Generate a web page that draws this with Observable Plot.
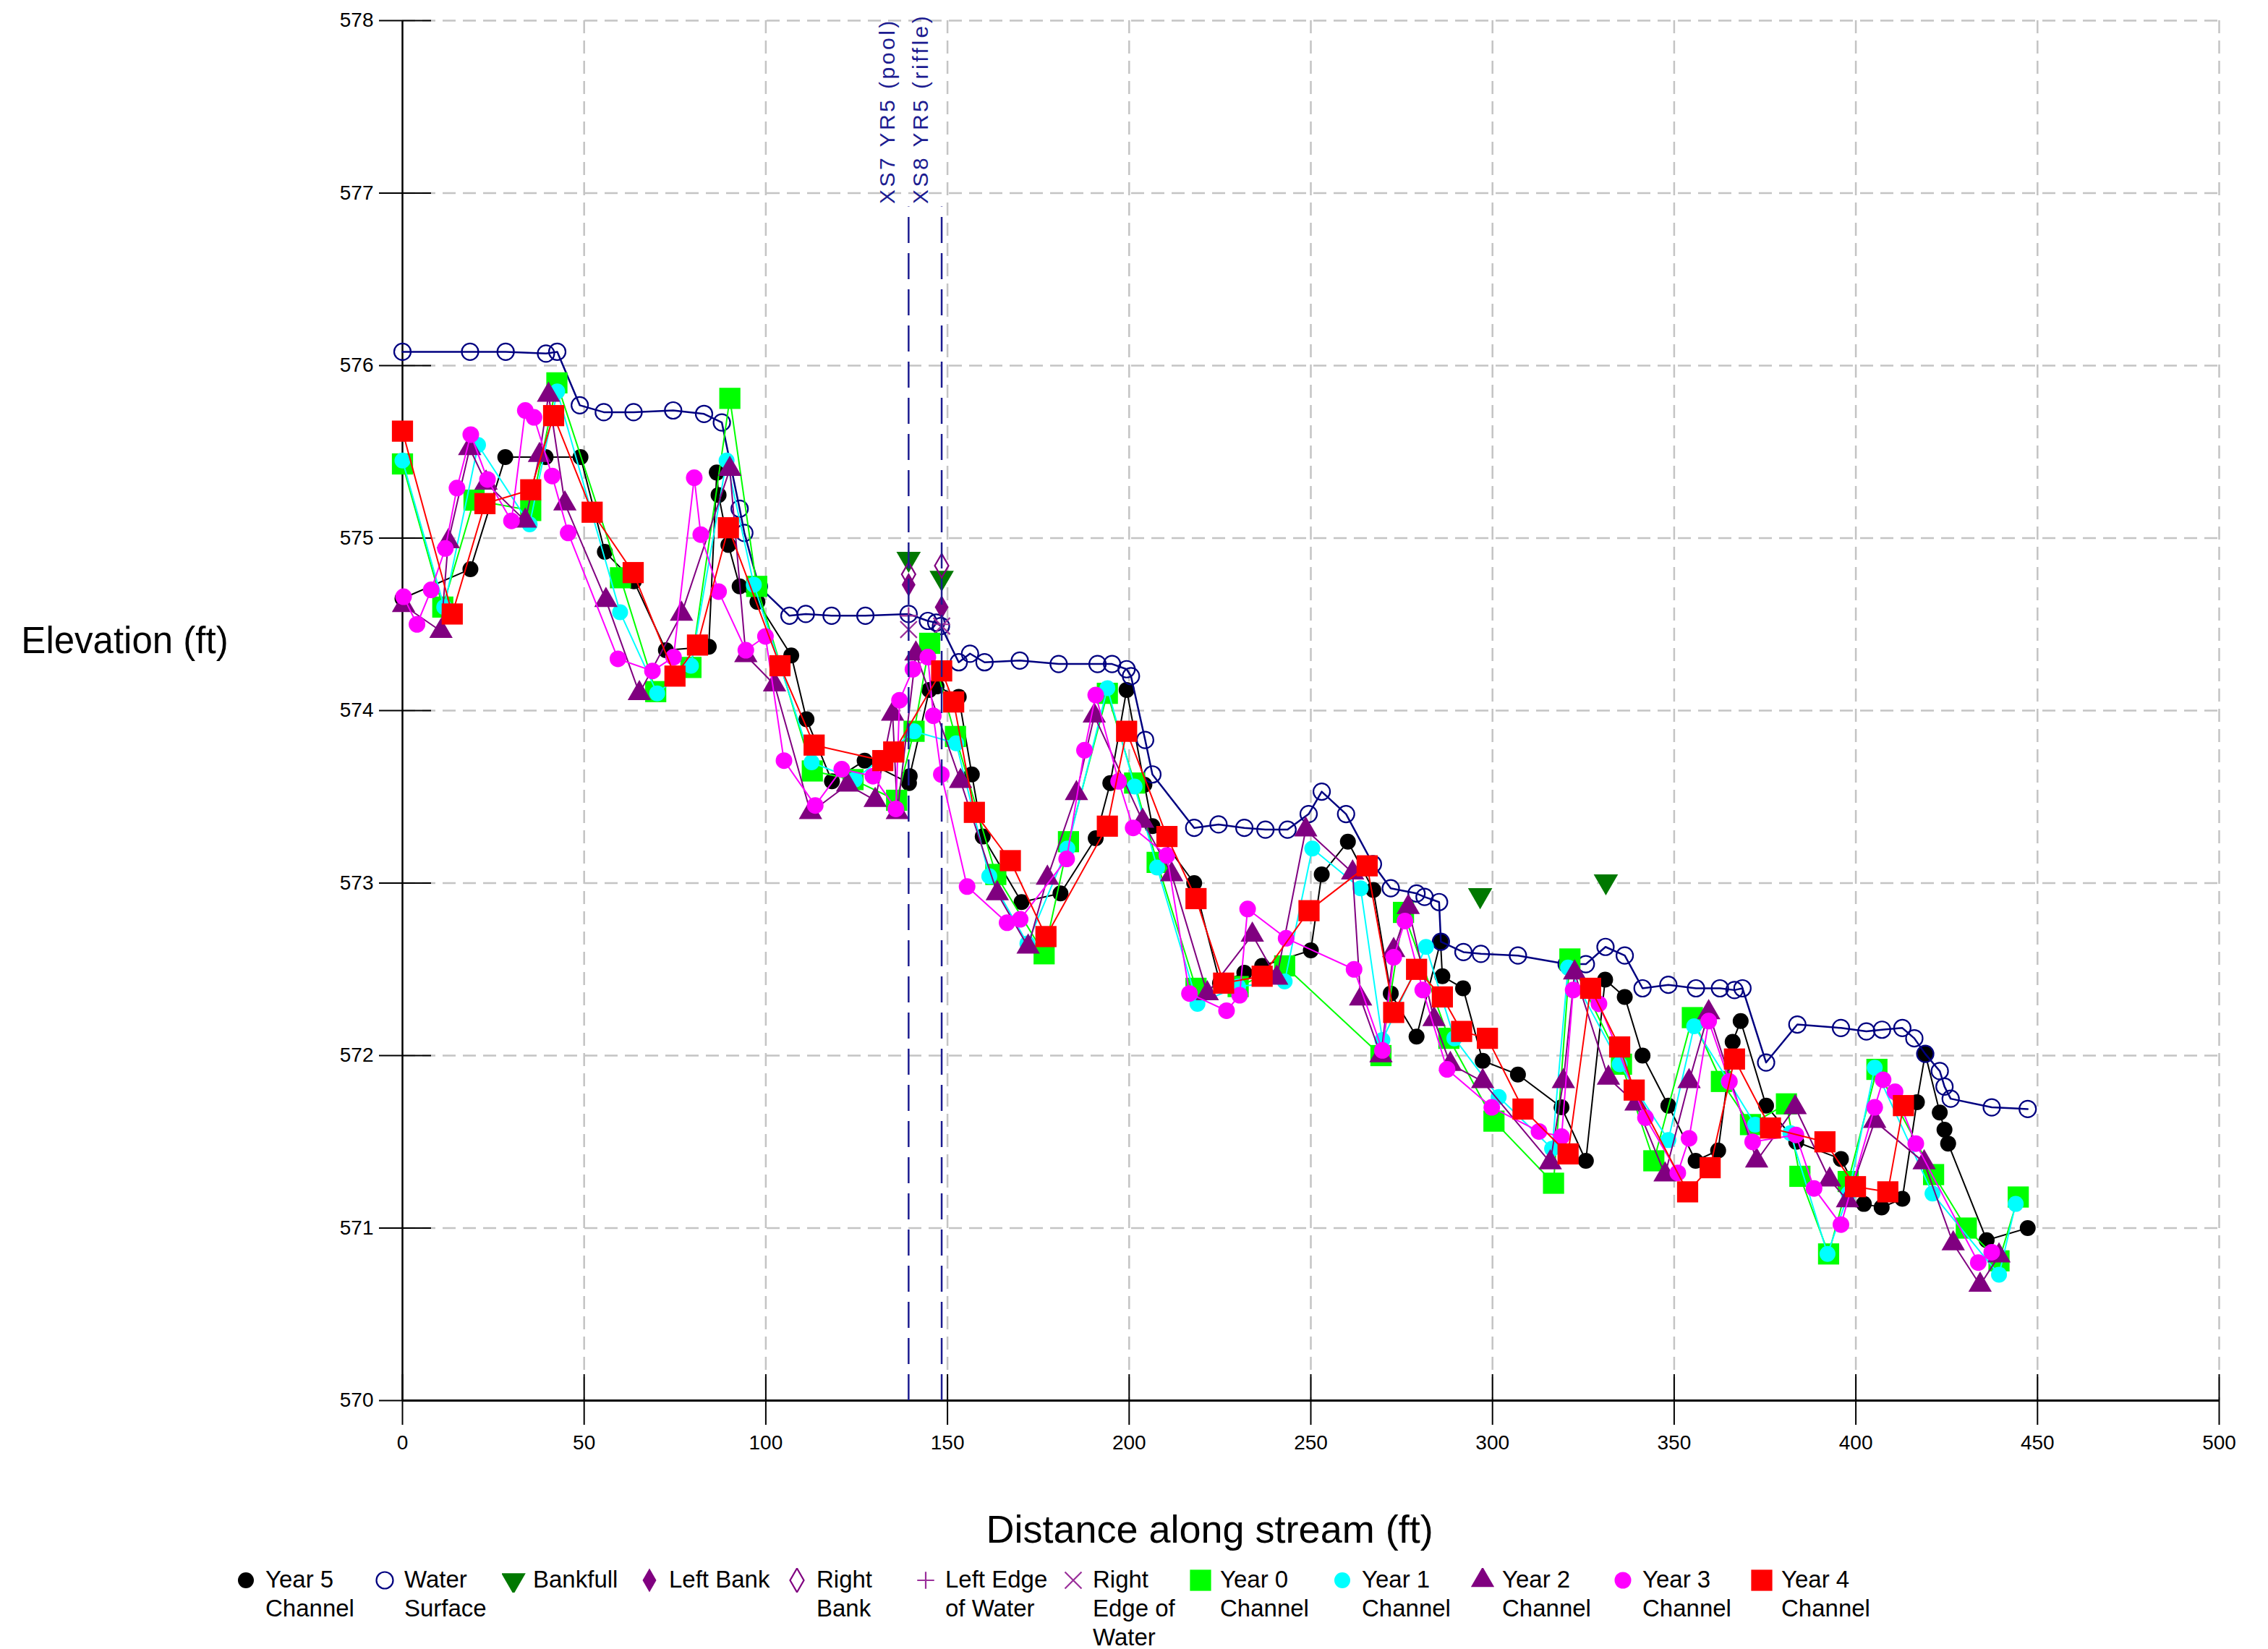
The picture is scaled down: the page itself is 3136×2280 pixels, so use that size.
<!DOCTYPE html>
<html><head><meta charset="utf-8">
<script src="https://cdn.jsdelivr.net/npm/d3@7"></script>
<script src="https://cdn.jsdelivr.net/npm/@observablehq/plot@0.6"></script>
<style>
html,body{margin:0;padding:0;background:#fff;}
#wrap{position:relative;width:3136px;height:2280px;font-family:"Liberation Sans",Arial,sans-serif;background:#fff;}
#legend{position:absolute;left:0;top:2164px;width:3136px;height:116px;}
.item{position:absolute;top:0;font-size:33px;line-height:40px;color:#000;white-space:nowrap;}
.item svg{position:absolute;top:4px;}
</style></head><body><div id="wrap"><div id="chart"></div><div id="legend"></div></div>
<script>
// ---------- data (station ft, elevation ft) ----------
const xTicks = [0, 50, 100, 150, 200, 250, 300, 350, 400, 450, 500];
const yTicks = [570, 571, 572, 573, 574, 575, 576, 577, 578];

const year5 = [[0,574.65],[18.7,574.82],[28.3,575.47],[39.4,575.47],[49,575.47],[55.7,574.92],[63.7,574.75],[72.5,574.35],[84.3,574.37],[86.5,575.38],[87,575.25],[89.7,574.96],[92.8,574.72],[97.7,574.63],[107,574.32],[111.2,573.95],[118.2,573.59],[127.2,573.71],[139.4,573.58],[139.6,573.62],[145,574.12],[147,574.14],[153.1,574.08],[156.7,573.63],[159.7,573.27],[170.4,572.89],[181.1,572.94],[190.8,573.26],[194.8,573.58],[199.3,574.12],[204.2,573.57],[206.4,573.33],[217.9,573.0],[225,572.42],[231.7,572.48],[236.6,572.52],[250,572.61],[253,573.05],[260.2,573.24],[267.2,572.96],[272,572.36],[279.1,572.11],[285.7,572.66],[286.2,572.46],[291.9,572.39],[297.3,571.97],[307,571.89],[319,571.7],[325.7,571.39],[331,572.44],[336.4,572.34],[341.3,572.0],[348.4,571.71],[355.9,571.39],[362.1,571.45],[366.1,572.08],[368.3,572.2],[375.3,571.71],[383.6,571.5],[395.9,571.4],[402.2,571.14],[407.1,571.12],[412.8,571.17],[416.8,571.73],[419.1,572.01],[423.1,571.67],[424.4,571.57],[425.4,571.49],[436,570.93],[447.3,571.0]];

const waterSurface = [[0,576.08],[18.6,576.08],[28.4,576.08],[39.5,576.07],[42.6,576.08],[48.8,575.77],[55.4,575.73],[63.6,575.73],[74.5,575.74],[83,575.72],[87.9,575.67],[92.8,575.17],[94.1,575.03],[98.1,574.72],[106.5,574.55],[111,574.56],[118.1,574.55],[127.4,574.55],[139.3,574.56],[144.6,574.52],[146.9,574.51],[148.2,574.49],[153.1,574.28],[156.2,574.33],[160.2,574.28],[169.9,574.29],[180.6,574.27],[191.3,574.27],[195.3,574.27],[199.3,574.24],[200.5,574.2],[204.4,573.83],[206.4,573.63],[217.9,573.32],[224.6,573.34],[231.7,573.32],[237.5,573.31],[243.6,573.31],[249.4,573.4],[253,573.53],[259.7,573.4],[267.1,573.11],[272,572.97],[279.1,572.94],[281.3,572.92],[285.3,572.89],[285.8,572.66],[292,572.6],[296.8,572.59],[307,572.58],[320.4,572.53],[325.7,572.53],[331.1,572.63],[336.4,572.58],[341.3,572.39],[348.4,572.41],[356,572.39],[362.6,572.39],[366.6,572.38],[368.8,572.39],[375.3,571.96],[383.9,572.18],[395.9,572.16],[402.9,572.14],[407.2,572.15],[412.8,572.16],[416.1,572.1],[419.1,572.01],[423.1,571.91],[424.4,571.82],[426.1,571.75],[437.4,571.7],[447.3,571.69]];

const bankfull = [[139.3,574.88],[148.4,574.77],[296.6,572.93],[331.2,573.01]];
const leftBank = [[139.3,574.73],[148.4,574.60]];
const rightBank = [[139.3,574.79],[148.4,574.84]];
const leftEdgeWater = [[139.3,574.55],[148.4,574.50]];
const rightEdgeWater = [[139.3,574.47],[148.4,574.49]];

const year0 = [[0,575.43],[11.1,574.6],[19.7,575.22],[35.3,575.16],[42.5,575.9],[60,574.77],[69.7,574.11],[79.4,574.25],[90.1,575.81],[97.5,574.72],[112.8,573.65],[124,573.6],[136,573.48],[140.8,573.88],[145.1,574.39],[152.2,573.85],[163.3,573.05],[176.6,572.59],[183.3,573.24],[194,574.1],[201.5,573.58],[207.7,573.12],[218.4,572.39],[230,572.4],[242.8,572.52],[269.3,572.0],[275.5,572.83],[288,572.1],[300.4,571.62],[316.8,571.26],[321.3,572.56],[335.5,571.95],[344.4,571.39],[355,572.22],[363,571.85],[371,571.6],[380.9,571.72],[384.6,571.3],[392.5,570.85],[397.9,571.27],[405.8,571.92],[421.4,571.31],[430.4,571.0],[439.4,570.81],[444.7,571.18]];

const year1 = [[0,575.45],[11.5,574.6],[20.8,575.54],[35,575.08],[42.6,575.85],[59.9,574.57],[70.1,574.1],[79.4,574.26],[89.2,575.45],[96.7,574.73],[112.6,573.7],[124.5,573.6],[140.8,573.88],[152.4,573.81],[161.5,573.04],[172,572.65],[183,573.2],[194,574.13],[201.5,573.56],[207.7,573.09],[218.8,572.3],[230,572.4],[242.8,572.43],[250.4,573.2],[263.7,572.97],[269.7,572.09],[281.7,572.63],[289.5,572.1],[301.7,571.76],[316.4,571.46],[320.8,572.51],[335,571.95],[348.4,571.51],[355.5,572.17],[365,571.85],[372.3,571.6],[382,571.55],[392.2,570.85],[398,571.2],[405.2,571.93],[421.1,571.2],[439.4,570.73],[444,571.14]];

const year2 = [[0.3,574.61],[10.6,574.46],[12.6,574.98],[18.5,575.52],[23,575.32],[33.8,575.1],[37.7,575.48],[40.2,575.83],[44.7,575.2],[56,574.64],[65.2,574.1],[76.8,574.56],[90.1,575.4],[94.5,574.32],[102.4,574.15],[112.3,573.41],[122.5,573.57],[130.1,573.48],[134.9,573.98],[136.2,573.41],[141.3,574.33],[153.6,573.59],[163.7,572.94],[172.2,572.63],[177.5,573.03],[185.5,573.52],[190.4,573.97],[203.7,573.36],[211.7,573.05],[221.5,572.36],[233.9,572.7],[240.6,572.45],[248.6,573.31],[261.5,573.06],[263.7,572.33],[269.3,572.0],[272.8,572.61],[276.8,572.86],[283.9,572.21],[288.4,571.95],[297.3,571.85],[315.9,571.38],[319.5,571.85],[322.6,572.48],[331.9,571.87],[339.5,571.72],[347.5,571.31],[354.1,571.85],[359.5,572.25],[372.7,571.39],[383.3,571.7],[392.8,571.28],[397.7,571.16],[405.2,571.62],[418.8,571.38],[426.8,570.91],[434.2,570.67],[439.4,570.84]];

const year3 = [[0.3,574.66],[4,574.5],[7.9,574.7],[11.8,574.94],[15,575.29],[18.8,575.6],[23.4,575.34],[30,575.1],[33.8,575.74],[36.2,575.7],[41.2,575.36],[45.6,575.03],[59.3,574.3],[68.8,574.23],[74.6,574.31],[80.3,575.35],[82.1,575.02],[87,574.69],[94.5,574.35],[99.9,574.43],[105,573.71],[113.6,573.45],[120.9,573.66],[129.5,573.62],[135.8,573.43],[136.8,574.06],[140.5,574.24],[144.6,574.31],[146.1,573.97],[148.3,573.63],[155.4,572.98],[166.4,572.77],[170,572.79],[182.8,573.14],[187.7,573.77],[190.8,574.09],[197.1,573.59],[201.1,573.32],[210.4,573.16],[216.6,572.36],[226.8,572.26],[230.4,572.35],[232.6,572.85],[243.2,572.68],[261.9,572.5],[269.7,572.03],[272.8,572.57],[275.9,572.78],[280.8,572.38],[287.5,571.92],[299.8,571.7],[312.8,571.56],[319,571.53],[322.2,572.38],[329.3,572.3],[342.1,571.64],[351,571.32],[354.1,571.52],[359.5,572.2],[365.2,571.85],[371.6,571.5],[383.5,571.54],[388.5,571.23],[395.9,571.02],[405.2,571.7],[407.5,571.86],[410.8,571.79],[416.5,571.49],[433.7,570.8],[437.4,570.86]];

const year4 = [[0,575.62],[13.7,574.56],[22.7,575.2],[35.3,575.28],[41.6,575.71],[52.2,575.15],[63.5,574.8],[75,574.2],[81.2,574.38],[89.7,575.06],[103.9,574.26],[113.3,573.8],[132.2,573.71],[135.2,573.76],[148.4,574.23],[151.7,574.05],[157.4,573.41],[167.3,573.13],[177.1,572.69],[194,573.33],[199.3,573.88],[210.4,573.27],[218.4,572.91],[226,572.42],[236.6,572.46],[249.5,572.84],[265.5,573.1],[272.8,572.25],[279.1,572.5],[286.2,572.34],[291.5,572.14],[298.6,572.1],[308.4,571.69],[320.8,571.43],[327,572.39],[335,572.05],[339,571.8],[353.7,571.21],[359.9,571.35],[366.6,571.98],[376.5,571.58],[391.5,571.5],[399.9,571.24],[408.8,571.21],[413.1,571.71]];

// cross-section markers: station, top elevation of line, label
const xsStations = [139.3, 148.4];
const xsTop = [576.92, 576.92];
const xsLabels = ["XS7 YR5 (pool)", "XS8 YR5 (riffle)"];

const xLabel = "Distance along stream (ft)";
const yLabel = "Elevation (ft)";

// ---------- styling ----------
const triangleDown = {
  draw(context, size) {
    const y = -Math.sqrt(size / (Math.sqrt(3) * 3));
    context.moveTo(0, -y * 2);
    context.lineTo(-Math.sqrt(3) * y, y);
    context.lineTo(Math.sqrt(3) * y, y);
    context.closePath();
  }
};
const navy = "#000080";
const xsColor = "#1c1c90";
const series = [
  {label: ["Year 5", "Channel"], data: year5, color: "#000000", symbol: d3.symbolCircle, r: 11, line: true, filled: true},
  {label: ["Water", "Surface"], data: waterSurface, color: navy, symbol: d3.symbolCircle, r: 11.5, line: true, filled: false},
  {label: ["Bankfull"], data: bankfull, color: "#007800", symbol: triangleDown, r: 12.5, line: false, filled: true},
  {label: ["Left Bank"], data: leftBank, color: "#800080", symbol: d3.symbolDiamond, r: 10, line: false, filled: true},
  {label: ["Right", "Bank"], data: rightBank, color: "#800080", symbol: d3.symbolDiamond, r: 10, line: false, filled: false},
  {label: ["Left Edge", "of Water"], data: leftEdgeWater, color: "#9a2f9a", symbol: d3.symbolPlus, r: 7.6, line: false, filled: false},
  {label: ["Right", "Edge of", "Water"], data: rightEdgeWater, color: "#9a2f9a", symbol: d3.symbolTimes, r: 10.5, line: false, filled: false},
  {label: ["Year 0", "Channel"], data: year0, color: "#00ff00", symbol: d3.symbolSquare, r: 16.5, line: true, filled: true},
  {label: ["Year 1", "Channel"], data: year1, color: "#00ffff", symbol: d3.symbolCircle, r: 11, line: true, filled: true},
  {label: ["Year 2", "Channel"], data: year2, color: "#800080", symbol: d3.symbolTriangle, r: 12, line: true, filled: true},
  {label: ["Year 3", "Channel"], data: year3, color: "#ff00ff", symbol: d3.symbolCircle, r: 11.5, line: true, filled: true},
  {label: ["Year 4", "Channel"], data: year4, color: "#ff0000", symbol: d3.symbolSquare, r: 16.5, line: true, filled: true}
];
const legendLeft = [340, 532, 710, 898, 1102, 1280, 1484, 1660, 1856, 2050, 2244, 2436];

const pts = a => a.map(([x, y]) => ({x, y}));
const xs = xsStations.map((x, i) => ({x, top: xsTop[i], label: xsLabels[i]}));
const gridStyle = {stroke: "#c4c4c4", strokeWidth: 2.5, strokeDasharray: "18,10"};

const seriesMarks = series.flatMap(s => {
  const d = pts(s.data);
  const m = [];
  if (s.line) m.push(Plot.line(d, {x: "x", y: "y", stroke: s.color, strokeWidth: s.color === navy ? 2.5 : 2}));
  m.push(Plot.dot(d, {
    x: "x", y: "y", symbol: s.symbol, r: s.r,
    fill: s.filled ? s.color : "none",
    stroke: s.filled ? "none" : s.color,
    strokeWidth: s.filled ? 0 : 2.2
  }));
  return m;
});

const chart = Plot.plot({
  width: 3136,
  height: 2164,
  marginLeft: 556,
  marginRight: 68,
  marginTop: 28,
  marginBottom: 228,
  style: {fontFamily: '"Liberation Sans", Arial, sans-serif', fontSize: "28px", background: "#fff", color: "#000"},
  x: {domain: [xTicks[0], xTicks[xTicks.length - 1]], label: null},
  y: {domain: [yTicks[0], yTicks[yTicks.length - 1]], label: null},
  marks: [
    Plot.ruleX(xTicks.slice(1), gridStyle),
    Plot.ruleY(yTicks.slice(1), gridStyle),
    Plot.ruleX([xTicks[0]], {stroke: "#000", strokeWidth: 2.5}),
    Plot.ruleY([yTicks[0]], {stroke: "#000", strokeWidth: 3}),
    Plot.ruleX(xTicks, {y1: yTicks[0], y2: yTicks[0], insetTop: 34, insetBottom: 36, stroke: "#000", strokeWidth: 2}),
    Plot.ruleY(yTicks, {x1: xTicks[0], x2: xTicks[0], insetLeft: -32, insetRight: -40, stroke: "#000", strokeWidth: 2}),
    Plot.axisX({ticks: xTicks, tickSize: 0, tickPadding: 48, tickFormat: d3.format("d")}),
    Plot.axisY({ticks: yTicks, tickSize: 0, tickPadding: 40, tickFormat: d3.format("d")}),
    ...seriesMarks,
    Plot.ruleX(xs, {x: "x", y1: yTicks[0], y2: "top", stroke: xsColor, strokeWidth: 2.5, strokeDasharray: "36,14"}),
    Plot.text(xs, {x: "x", y: "top", text: "label", rotate: -90, textAnchor: "start", lineAnchor: "bottom", dx: -19, dy: -4, fill: xsColor, fontSize: 30}),
    Plot.text([yLabel], {frameAnchor: "left", dx: -384, dy: -96, textAnchor: "middle", fontSize: 51}),
    Plot.text([xLabel], {frameAnchor: "bottom", dx: -140, dy: 196, textAnchor: "middle", fontSize: 54})
  ]
});
document.getElementById("chart").appendChild(chart);
d3.select(chart).selectAll("text").filter(function () { return this.textContent.startsWith("XS"); })
  .style("letter-spacing", "3.5px");

// ---------- legend ----------
const legend = d3.select("#legend");
series.forEach((s, i) => {
  const item = legend.append("div").attr("class", "item").style("left", (legendLeft[i] - 16) + "px");
  const svg = item.append("svg").attr("width", 34).attr("height", 34).style("left", "0px");
  svg.append("path")
    .attr("transform", "translate(16,17)")
    .attr("d", d3.symbol().type(s.symbol).size(Math.PI * s.r * s.r)())
    .attr("fill", s.filled ? s.color : "none")
    .attr("stroke", s.filled ? "none" : s.color)
    .attr("stroke-width", 2.2);
  item.append("div").style("margin-left", "43px").html(s.label.join("<br>"));
});
</script></body></html>
